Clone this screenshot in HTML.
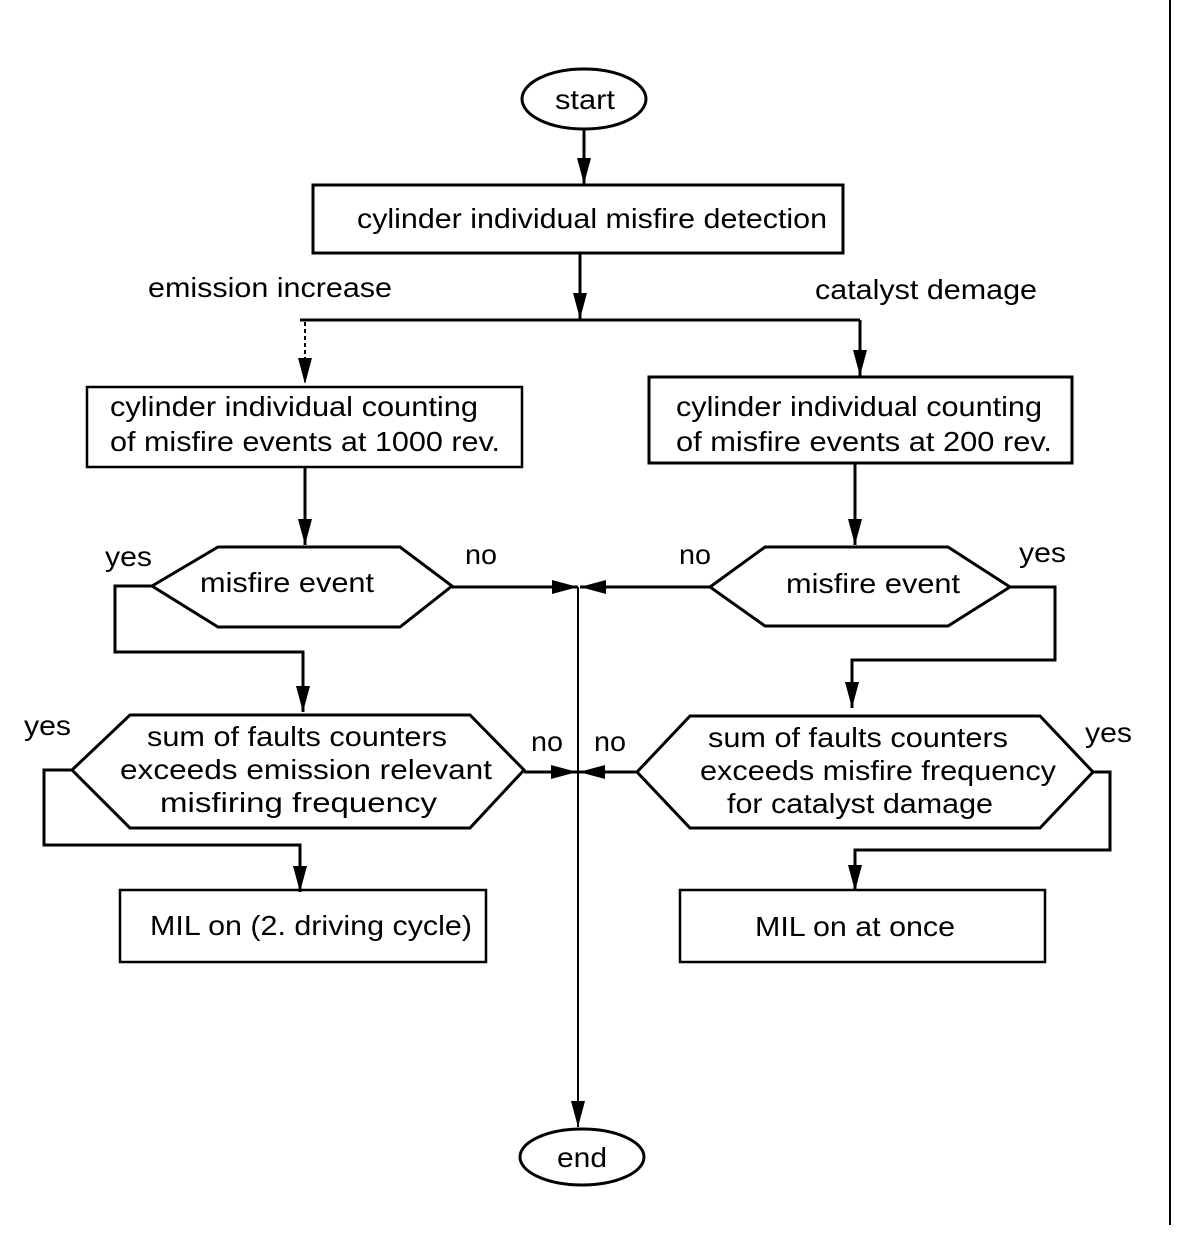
<!DOCTYPE html>
<html><head><style>body{margin:0;background:#fff}svg{display:block}</style></head><body>
<svg width="1184" height="1238" viewBox="0 0 1184 1238" xmlns="http://www.w3.org/2000/svg" font-family="Liberation Sans, sans-serif" font-size="28" fill="#000">
<defs>
<marker id="b" markerWidth="26" markerHeight="14" refX="26" refY="7" orient="auto" markerUnits="userSpaceOnUse"><path d="M0,0 L26,7 L0,14z"/></marker></defs>
<g stroke="#000" stroke-width="3" fill="none">
<line x1="1170" y1="0" x2="1170" y2="1225" stroke-width="2"/>
<ellipse cx="584" cy="99" rx="62" ry="30"/>
<line x1="584" y1="129" x2="584" y2="184" marker-end="url(#b)"/>
<rect x="313" y="185" width="530" height="68"/>
<line x1="580" y1="253" x2="580" y2="319" marker-end="url(#b)"/>
<line x1="300" y1="320" x2="860" y2="320"/>
<line x1="305" y1="322" x2="305" y2="384" stroke-dasharray="4,3" stroke-width="2" marker-end="url(#b)"/>
<line x1="860" y1="320" x2="860" y2="376" marker-end="url(#b)"/>
<rect x="87" y="387" width="435" height="80" stroke-width="2.5"/>
<rect x="649" y="377" width="423" height="86"/>
<line x1="305" y1="467" x2="305" y2="545" marker-end="url(#b)"/>
<line x1="855" y1="463" x2="855" y2="545" marker-end="url(#b)"/>
<polygon points="152,586 218,547 400,547 452,586 400,627 218,627"/>
<polygon points="710,587 765,547 948,547 1010,587 948,626 765,626"/>
<line x1="452" y1="587" x2="578" y2="587" marker-end="url(#b)"/>
<line x1="710" y1="587" x2="580" y2="587" marker-end="url(#b)"/>
<line x1="578" y1="587" x2="578" y2="1127" stroke-width="2" marker-end="url(#b)"/>
<polyline points="152,586 115,586 115,652 303,652 303,712" marker-end="url(#b)"/>
<polyline points="1010,587 1055,587 1055,660 852,660 852,708" marker-end="url(#b)"/>
<polygon points="72,770 130,715 470,715 524,770 470,828 130,828"/>
<polygon points="637,772 690,716 1040,716 1093,772 1040,828 690,828"/>
<line x1="524" y1="772" x2="577" y2="772" marker-end="url(#b)"/>
<line x1="637" y1="772" x2="579" y2="772" marker-end="url(#b)"/>
<polyline points="72,770 44,770 44,845 300,845 300,892" marker-end="url(#b)"/>
<polyline points="1093,772 1110,772 1110,850 855,850 855,891" marker-end="url(#b)"/>
<rect x="120" y="890" width="366" height="72" stroke-width="2.5"/>
<rect x="680" y="890" width="365" height="72" stroke-width="2.5"/>
<ellipse cx="582" cy="1157" rx="62" ry="28"/>
</g>
<g lengthAdjust="spacingAndGlyphs">
<text x="555" y="109" textLength="60" lengthAdjust="spacingAndGlyphs">start</text>
<text x="357" y="228" textLength="470" lengthAdjust="spacingAndGlyphs">cylinder individual misfire detection</text>
<text x="110" y="416" textLength="368" lengthAdjust="spacingAndGlyphs">cylinder individual counting</text>
<text x="110" y="451" textLength="390" lengthAdjust="spacingAndGlyphs">of misfire events at 1000 rev.</text>
<text x="676" y="416" textLength="366" lengthAdjust="spacingAndGlyphs">cylinder individual counting</text>
<text x="676" y="451" textLength="376" lengthAdjust="spacingAndGlyphs">of misfire events at 200 rev.</text>
<text x="200" y="592" textLength="174" lengthAdjust="spacingAndGlyphs">misfire event</text>
<text x="786" y="593" textLength="174" lengthAdjust="spacingAndGlyphs">misfire event</text>
<text x="147" y="746" textLength="300" lengthAdjust="spacingAndGlyphs">sum of faults counters</text>
<text x="120" y="779" textLength="372" lengthAdjust="spacingAndGlyphs">exceeds emission relevant</text>
<text x="160" y="812" textLength="277" lengthAdjust="spacingAndGlyphs">misfiring frequency</text>
<text x="708" y="747" textLength="300" lengthAdjust="spacingAndGlyphs">sum of faults counters</text>
<text x="700" y="780" textLength="356" lengthAdjust="spacingAndGlyphs">exceeds misfire frequency</text>
<text x="727" y="813" textLength="266" lengthAdjust="spacingAndGlyphs">for catalyst damage</text>
<text x="150" y="935" textLength="322" lengthAdjust="spacingAndGlyphs">MIL on (2. driving cycle)</text>
<text x="755" y="936" textLength="200" lengthAdjust="spacingAndGlyphs">MIL on at once</text>
<text x="557" y="1167" textLength="50" lengthAdjust="spacingAndGlyphs">end</text>
<text x="148" y="297" textLength="244" lengthAdjust="spacingAndGlyphs">emission increase</text>
<text x="815" y="299" textLength="222" lengthAdjust="spacingAndGlyphs">catalyst demage</text>
<text x="105" y="566" textLength="47" lengthAdjust="spacingAndGlyphs">yes</text>
<text x="465" y="564" textLength="32" lengthAdjust="spacingAndGlyphs">no</text>
<text x="679" y="564" textLength="32" lengthAdjust="spacingAndGlyphs">no</text>
<text x="1019" y="562" textLength="47" lengthAdjust="spacingAndGlyphs">yes</text>
<text x="24" y="735" textLength="47" lengthAdjust="spacingAndGlyphs">yes</text>
<text x="531" y="751" textLength="32" lengthAdjust="spacingAndGlyphs">no</text>
<text x="594" y="751" textLength="32" lengthAdjust="spacingAndGlyphs">no</text>
<text x="1085" y="742" textLength="47" lengthAdjust="spacingAndGlyphs">yes</text>
</g>
</svg>
</body></html>
